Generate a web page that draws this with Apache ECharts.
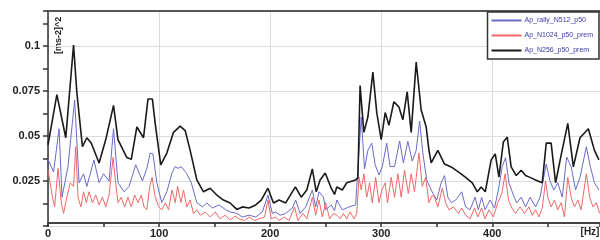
<!DOCTYPE html>
<html><head><meta charset="utf-8">
<script src="https://cdn.jsdelivr.net/npm/echarts@6/dist/echarts.min.js"></script>
<style>html,body{margin:0;padding:0;background:#fff}#c{width:600px;height:240px}</style>
</head><body><div id="c"></div>
<script>
var seriesNames = ['Ap_rally_N512_p50', 'Ap_N1024_p50_prem', 'Ap_N256_p50_prem'];
var xTickLabels = ['0', '100', '200', '300', '400'];
var yTickLabels = ['0.025', '0.05', '0.075', '0.1'];

var freqBlack = [0,8,16,23,26,31,35,39,46,52,59,63,71,75,80,86,90,94,96.5,101.5,107,113,119,123.5,128,134,140,146,152,158,164,170,175,181,187,192,198,203,208,214,222.7,228,233,238,241.5,245,249.6,255,258,260,265,269,277,279,281,284.4,288,292.5,296,300,303.6,307,311.4,316,319.5,323.4,327,331.5,336,340.5,343,345,351,357,363,371,376.6,382,386.5,390,393.7,399,402.7,406,410,413.5,417,421.6,426,430,434,439,445,448.6,453,457,462,468,473,479,486.5,492,496];
var valBlack = [0.045,0.073,0.049,0.1005,0.074,0.044,0.049,0.046,0.035,0.048,0.067,0.048,0.038,0.037,0.055,0.049,0.0705,0.0705,0.057,0.034,0.0405,0.052,0.0555,0.053,0.042,0.0256,0.019,0.021,0.0172,0.0144,0.0128,0.0092,0.0106,0.01,0.0117,0.0144,0.021,0.0128,0.0144,0.0128,0.0217,0.016,0.02,0.0317,0.019,0.0256,0.0294,0.021,0.0175,0.0217,0.02,0.024,0.0256,0.0267,0.078,0.052,0.0605,0.0855,0.063,0.048,0.063,0.056,0.069,0.066,0.059,0.0745,0.052,0.091,0.0644,0.055,0.042,0.035,0.042,0.0344,0.0328,0.0294,0.0267,0.024,0.019,0.0217,0.019,0.0367,0.04,0.0272,0.0467,0.0494,0.0328,0.028,0.031,0.028,0.027,0.0256,0.024,0.046,0.046,0.024,0.0394,0.057,0.0328,0.049,0.054,0.042,0.0367];

var freqBlue = [0,5,10,12.6,18,24,28,32,35,41.4,46,50,55,59,63,68.5,73,79,85,89,92,94.5,98,102.4,107,111.4,114.4,117,120,125,129,134,139,143,148,154,160,164,170,175,181,187,193,198,202,205,209,214,220,223,227,232,238,241,244,248,250,255,258,260,265,271,277,280.4,282,285,288,291.5,294.6,298,301,305,308,312,316.6,320,324,328,331.5,334.6,337.5,341,345,350,354,357,360,363,367,372.5,376,380,384.5,387.5,390.4,393.5,398,402,405.5,409,412,415,419,422,426,430,434,439,443,448.6,452,455.5,459,463,467,471,475,479,484.7,488.3,492,496];
var valBlue = [0.037,0.03,0.054,0.016,0.033,0.07,0.024,0.029,0.022,0.0367,0.024,0.029,0.025,0.054,0.024,0.019,0.022,0.034,0.025,0.032,0.0405,0.04,0.024,0.013,0.019,0.029,0.033,0.032,0.033,0.029,0.024,0.013,0.0106,0.0128,0.01,0.0117,0.009,0.0078,0.007,0.005,0.006,0.005,0.0078,0.0172,0.007,0.0078,0.006,0.007,0.01,0.0144,0.007,0.0106,0.02,0.0106,0.019,0.016,0.009,0.0117,0.0085,0.0144,0.009,0.0106,0.0117,0.045,0.0605,0.0317,0.042,0.046,0.034,0.0283,0.033,0.046,0.033,0.033,0.0472,0.035,0.047,0.036,0.042,0.0583,0.0405,0.0256,0.02,0.0144,0.024,0.028,0.016,0.013,0.0144,0.019,0.0106,0.009,0.016,0.009,0.016,0.009,0.0144,0.01,0.02,0.033,0.038,0.024,0.0172,0.0128,0.016,0.0106,0.016,0.0106,0.016,0.0344,0.025,0.02,0.024,0.016,0.0383,0.033,0.02,0.027,0.044,0.033,0.024,0.02];

var freqRed = [0,4,6,9,12,14,17,20,23,25,27,29.6,32,34.5,37,40,43,46,49,52,55,58.6,60.7,63,66,69,72,75,78,81,84,86.5,89,91.6,93.7,96.6,99.6,102.6,105.6,108.6,111.6,114.6,116.7,119.7,122,125,128,131,134,137,141.7,146,150.6,155,159.6,164,168.5,172,177,181,186,190,195,198,201,205,208,213,217,222,225,229.5,233,238,241,244,247,250,253.6,257,260,263,266,269,272,275.6,278,280,282,284.4,287,289.6,292,295,298,300.6,303.6,305.7,309,312,315,318,321,324.4,327,330,334,337,340,343,346,348,351,355,358,361,365,369.5,372.5,376,380,384,387,390.4,393.5,397,401,405,408.6,411.6,414.6,417.6,421,425,429,433,436,439,442,445,448,450,453,456,459,462,465,468,471,474,477,480,484.7,487.7,490.7,493.7,496.7];
var valRed = [0.031,0.016,0.0106,0.032,0.013,0.007,0.016,0.024,0.022,0.044,0.016,0.0106,0.019,0.013,0.019,0.0128,0.0172,0.0117,0.016,0.0106,0.0172,0.038,0.025,0.013,0.016,0.0106,0.016,0.0106,0.0172,0.013,0.0172,0.0106,0.009,0.022,0.027,0.016,0.0106,0.009,0.0128,0.009,0.02,0.013,0.022,0.013,0.02,0.0106,0.0144,0.007,0.009,0.006,0.0078,0.005,0.0078,0.004,0.006,0.0033,0.0055,0.004,0.003,0.005,0.003,0.004,0.005,0.0144,0.004,0.005,0.003,0.005,0.003,0.0106,0.003,0.007,0.004,0.016,0.006,0.0144,0.005,0.013,0.004,0.007,0.006,0.004,0.007,0.004,0.0078,0.004,0.007,0.027,0.02,0.029,0.016,0.024,0.0128,0.027,0.013,0.02,0.024,0.0128,0.027,0.016,0.029,0.016,0.031,0.018,0.029,0.019,0.0405,0.022,0.027,0.013,0.017,0.016,0.0106,0.021,0.013,0.009,0.0106,0.007,0.01,0.006,0.004,0.01,0.005,0.01,0.004,0.009,0.005,0.013,0.018,0.029,0.0144,0.01,0.007,0.0106,0.007,0.0106,0.006,0.009,0.005,0.01,0.025,0.016,0.0106,0.0144,0.009,0.013,0.005,0.027,0.016,0.0106,0.0144,0.009,0.029,0.016,0.0106,0.013,0.007];

function pairs(f, v) { var o = []; for (var i = 0; i < f.length; i++) o.push([f[i], v[i]]); return o; }

var chart = echarts.init(document.getElementById('c'), null, {renderer: 'canvas'});
var tickFont = {fontFamily: 'Liberation Sans, Arial, sans-serif', fontWeight: 'bold', fontSize: 11, color: '#222'};
chart.setOption({
  animation: false,
  backgroundColor: '#fff',
  grid: {left: 48, top: 11, right: 0, bottom: 14, containLabel: false},
  xAxis: [{
    type: 'value', min: 0, max: 497, interval: 100, offset: -3,
    axisLine: {show: true, lineStyle: {color: '#444', width: 2}},
    axisTick: {show: true, length: 4, lineStyle: {color: '#333', width: 1.5}},
    minorTick: {show: true, splitNumber: 2, length: 4, lineStyle: {color: '#333', width: 1.5}},
    axisLabel: Object.assign({margin: 5, showMaxLabel: false,
      formatter: function (v) { var i = Math.round(v / 100); return (Math.abs(v - i * 100) < 1e-6 && i < xTickLabels.length) ? xTickLabels[i] : ''; }}, tickFont),
    splitLine: {show: true, lineStyle: {color: '#dcdcdc', width: 1}}
  }, {
    type: 'value', position: 'top', min: 0, max: 497,
    axisLine: {show: true, onZero: false, lineStyle: {color: '#555', width: 2}},
    axisTick: {show: false}, axisLabel: {show: false}, splitLine: {show: false}
  }],
  yAxis: {
    type: 'value', min: 0, max: 0.1194, interval: 0.025,
    axisLine: {show: true, lineStyle: {color: '#333', width: 1.5}},
    axisTick: {show: true, length: 5, lineStyle: {color: '#333', width: 1.5}},
    minorTick: {show: true, splitNumber: 2, length: 5, lineStyle: {color: '#333', width: 1.5}},
    axisLabel: Object.assign({margin: 8, showMaxLabel: false,
      formatter: function (v) { var i = Math.round(v / 0.025); return (i >= 1 && i <= yTickLabels.length && Math.abs(v - i * 0.025) < 1e-6) ? yTickLabels[i - 1] : ''; }}, tickFont),
    splitLine: {show: true, lineStyle: {color: '#dcdcdc', width: 1}}
  },
  legend: {
    orient: 'vertical', right: 1, top: 12, itemWidth: 30, itemHeight: 2, itemGap: 8,
    icon: 'rect', backgroundColor: '#fff', borderColor: '#333', borderWidth: 1.5, borderRadius: 0,
    padding: [5, 6, 5, 4],
    textStyle: {fontFamily: 'Liberation Sans, Arial, sans-serif', fontSize: 7, color: '#3a3aa8', padding: [0, 0, 0, -2]},
    data: seriesNames
  },
  graphic: [
    {type: 'text', x: 54, y: 54, rotation: Math.PI / 2,
      style: {text: '[ms-2]^2', fontFamily: 'Liberation Sans, Arial, sans-serif', fontWeight: 'bold', fontSize: 9, fill: '#222', textVerticalAlign: 'top'}},
    {type: 'text', x: 590, y: 227,
      style: {text: '[Hz]', fontFamily: 'Liberation Sans, Arial, sans-serif', fontWeight: 'bold', fontSize: 10, fill: '#222', textAlign: 'center'}}
  ],
  series: [
    {name: seriesNames[0], type: 'line', data: pairs(freqBlue, valBlue), showSymbol: false, color: '#6b6bc8', lineStyle: {width: 1, color: '#6b6bc8'}},
    {name: seriesNames[1], type: 'line', data: pairs(freqRed, valRed), showSymbol: false, color: '#f06868', lineStyle: {width: 1, color: '#f06868'}},
    {name: seriesNames[2], type: 'line', data: pairs(freqBlack, valBlack), showSymbol: false, color: '#1a1a1a', lineStyle: {width: 1.6, color: '#1a1a1a'}}
  ]
});
</script></body></html>
